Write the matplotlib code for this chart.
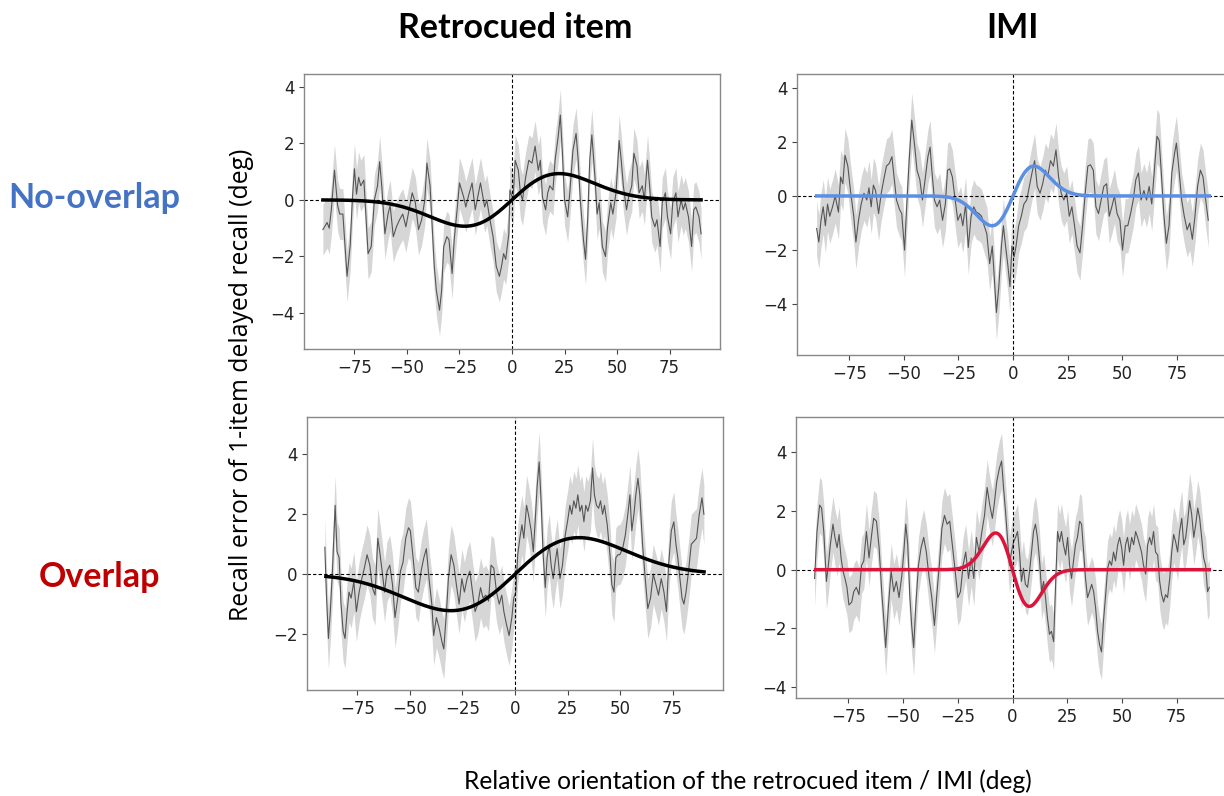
import numpy as np
import matplotlib
matplotlib.use("Agg")
import matplotlib.pyplot as plt

# ---- data ----
# top-left: retrocued item, no-overlap
tl_x = [-90, -88, -87, -86, -84.5, -83, -82, -80.5, -79.5, -78.5, -77, -76, -75, -74, -73, -72, -70.5, -69.5,
        -68.5, -67, -65.5, -64, -63, -62, -60.5, -59, -58, -56.5, -55, -53.5, -52, -50.5, -49, -47.5, -46,
        -44.5, -43, -41.5, -40.5, -39, -38, -37, -36, -34.5, -33.5, -32.5, -31, -30, -28.5, -27.5, -26, -25,
        -23, -22, -20.5, -19, -17.5, -15, -13, -12, -10.5, -9, -7.5, -6, -5, -4, -3, -1.5, -1, 0.5, 1.5, 3, 4,
        5, 6.5, 8, 9.5, 11, 12.5, 13.5, 14.5, 16, 17, 18, 19.5, 20.5, 22, 23, 24, 25, 26.5, 27.5, 29, 30.5,
        31.5, 32.5, 34, 35, 36, 37, 38, 39.5, 40.5, 41.5, 43, 44.5, 45.5, 47, 48, 49.5, 51, 52, 53, 54.5, 55.5,
        57, 58, 59.5, 60.5, 62, 63, 64.5, 65.5, 66.5, 68, 69, 70.5, 71.5, 73, 74, 75.5, 76.5, 78, 79, 80.5,
        81.5, 82.5, 84, 85.5, 86.5, 87.5, 89, 90]
tl_y = [-1.05, -0.8, -1.0, -0.35, 1.05, -0.2, -0.5, -0.5, -1.6, -2.7, -1.6, 0, 1.1, 0.2, 0.8, 0.5, 0.7, -0.6,
        -1.9, -1.65, 0, 0.5, 1.35, 0.5, -1.2, -0.5, -0.2, -1.3, -0.95, -0.7, -0.5, -0.95, -0.35, 0.25, -0.1,
        -1.05, -0.7, 0, 1.3, 0.5, -0.95, -2.35, -3.2, -3.9, -3.2, -1.65, -1.3, -1.4, -2.6, -1.4, -0.25, 0.6,
        0.1, -0.25, 0.2, 0.6, -0.35, 0.6, -0.25, 0, -0.7, -1.3, -2.35, -2.7, -2.35, -1.9, -2.1, -1.2, 0.35, 0,
        1.4, 1.05, 0.25, 0, 0.8, 1.4, 1.3, 1.9, 1.05, 1.4, 0.1, -0.35, 0.25, 0.5, 0.35, 1.4, 2.25, 3.0, 1.65,
        0, -0.6, 0.25, 1.75, 2.35, 1.4, 0, -1.4, -2.1, -0.7, 1.4, 2.3, 0.8, -0.5, -0.1, -1.65, -2.0, -0.95,
        -0.1, -0.5, 0.25, 2.1, 1.4, 0.5, -0.35, 0.1, 0.5, 1.65, 1.2, 0.25, 0.5, 0, 1.4, 0.5, -0.6, -0.95, -0.7,
        -1.65, -0.1, 0.25, -0.6, -1.2, -0.1, 0.25, -0.6, 0, -0.35, -0.1, -0.6, -1.65, -0.35, -0.25, -0.6, -1.2]

# top-right: IMI, no-overlap
tr_x = [-90, -89, -88, -87, -86, -85, -84, -82.7, -81.5, -80, -79, -78, -77, -75.7, -74.5, -73, -72, -70.8,
        -69.6, -68.3, -67, -66, -65, -64, -63, -61.6, -60.4, -59, -58, -56.7, -55.5, -54.5, -53.4, -52, -51,
        -49.7, -48.8, -47.6, -46.4, -45, -44, -42.7, -41.5, -40.3, -39, -38, -37.2, -36, -34.8, -33.6, -32.3,
        -31, -30, -29, -27.8, -26.5, -25.3, -24, -23, -21.7, -20.5, -19.2, -18, -16.8, -15.6, -14.4, -13.2,
        -12, -10.7, -9.5, -8.7, -7.6, -6.5, -5.3, -4.4, -3.4, -2.3, -1.4, -0.5, 0.5, 1.4, 2.6, 3.8, 5, 6.3,
        7.5, 8.7, 9.9, 11.1, 12.4, 13.6, 14.8, 16, 17.2, 18.5, 19.7, 20.9, 22.1, 23.3, 24.6, 25.8, 27, 28.2,
        29.4, 30.7, 31.9, 33.1, 34.3, 35.5, 36.8, 38, 39.2, 40.4, 41.6, 42.9, 44.1, 45.3, 46.5, 47.7, 49,
        50.2, 51.4, 52.6, 53.9, 55.1, 56.3, 57.5, 58.7, 60, 61.2, 62.4, 63.6, 64.8, 66, 67, 67.9, 69.1, 70.3,
        71.5, 72.8, 74, 74.9, 76.1, 77.3, 78.5, 79.8, 81, 82.2, 83.4, 84.6, 85.9, 87.1, 88.3, 89.5]
tr_y = [-1.2, -1.7, -0.9, -0.4, -1.1, -0.3, -0.75, -0.4, 0, -0.6, 0.7, 0.45, 1.5, 1.1, 0.2, -0.75, -1.7, -0.9,
        -0.3, 0.1, -0.15, 0.3, -0.4, 0.4, 0.2, -0.65, 0.1, 0.7, 1.1, 1.2, 1.45, 0.7, -0.15, -0.5, -0.65,
        -2.0, -0.5, 1.3, 2.8, 1.8, 0.95, 0.6, -0.15, 0.6, 1.45, 1.8, 0.95, -0.15, -0.4, -0.15, -0.9,
        -0.3, 0.95, 1.0, 0.7, -0.15, -0.9, -0.65, -1.1, -0.3, -1.9, -0.75, -0.4, -0.6, -0.65, -0.75, -1.1,
        -1.4, -2.5, -1.85, -2.85, -4.3, -3.35, -1.85, -1.1, -1.85, -2.6, -3.35, -1.85, -2.25, -1.85, -1.1,
        -0.75, -0.3, -0.15, 0.35, 0.85, 1.3, 0.35, 0.1, 0.45, 0.95, 0.75, 1.3, 1.1, 1.7, 0.7, 0.1, -0.15,
        0.1, -0.75, -0.4, -1.1, -1.85, -2.1, -1.1, 0.1, 1.1, 1.15, 0.95, -0.4, -0.65, -0.15, 0.35, 0.45,
        -0.75, -0.4, 0, -0.65, -0.9, -2.0, -1.1, -1.1, -0.65, -0.15, 0.6, 0.85, -0.15, 0.2, -0.15, 0.35,
        -0.3, 0.95, 2.2, 2.05, 0.95, -0.65, -1.75, -1.1, 0.85, 1.55, 1.95, 0.95, -0.15, -0.75, -1.25, -1.0,
        -1.6, -0.75, 0.35, 0.95, 0.7, -0.15, -0.9]

# bottom-left: retrocued item, overlap
bl_x = [-90.5, -89.8, -88.8, -87.9, -86.9, -85.6, -84.7, -83.7, -82.8, -81.8, -80.9, -79.9, -79, -78, -76.7,
        -75.5, -74.2, -72.9, -71.7, -70.4, -69.1, -67.9, -66.6, -65.3, -64.4, -63.4, -62.1, -60.9, -59.6,
        -58.3, -57.1, -55.8, -54.5, -53.3, -52, -50.7, -49.8, -48.5, -47.2, -46, -44.7, -43.4, -42.2, -40.9,
        -39.6, -38.7, -37.4, -36.1, -34.8, -33.9, -32.6, -31.7, -30.4, -29.1, -27.9, -26.6, -25.3, -24.1,
        -22.8, -21.5, -20.2, -19, -17.7, -16.4, -15.2, -13.9, -12.6, -11.4, -10.1, -8.8, -7.5, -6.3, -5.3,
        -4, -2.8, -1.5, -0.6, 0.4, 1.3, 2.3, 3.3, 4.2, 5.5, 6.4, 7.7, 8.7, 9.6, 10.5, 11.5, 12.5, 13.4, 14.4,
        15.3, 16.3, 17.2, 18.2, 19.1, 20.1, 21.4, 22.6, 23.9, 25.2, 26.1, 27, 28, 29, 29.9, 30.9, 31.8, 32.8,
        33.7, 34.7, 35.9, 36.9, 37.8, 38.8, 39.8, 40.7, 41.7, 42.6, 43.9, 45.2, 46.1, 47.1, 48, 49, 49.9,
        51.2, 52.5, 53.7, 54.7, 55.6, 56.6, 57.5, 58.5, 59.4, 60.7, 62, 63.2, 64.5, 65.8, 67.1, 68.3, 69.6,
        70.9, 72.1, 73.1, 74.4, 75.6, 76.6, 77.5, 78.5, 79.5, 80.4, 81.4, 82.6, 83.9, 85.2, 86.4, 87.7, 89,
        89.9]
bl_y = [0.9, -0.6, -2.15, -1.25, 0.1, 2.3, 0.75, 0.55, -1.0, -1.9, -2.15, -1.25, -0.6, -0.8, -0.25,
        -1.25, -0.6, -0.15, 0.2, 0.65, 0.3, -0.45, -0.7, 1.2, 0.75, 0.2, -0.6, 0.1, 0.3,
        -0.35, -1.45, -0.8, 0.1, 0.4, 1.2, 1.55, 1.45, 0.55, -0.45, -0.6, 0.1, 0.55, 0.85, -0.15,
        -1.0, -2.05, -1.45, -1.8, -2.25, -2.5, -1.25, -0.15, 0.65, 0.3, -0.35, -1.0, -0.15, -0.6,
        -0.15, 0.1, -0.6, -1.25, -1.0, -0.45, -0.8, -0.7, -0.9, 0.3, 0.2, -0.6, -1.0, -0.7, -1.25,
        -1.7, -2.05, -1.45, -0.8, -0.6, 0.65, 1.2, 1.65, 1.2, 2.3, 2.0, 1.45, 0.75, 1.75, 2.9, 3.75, 2.3, 0.65,
        -0.45, 0.55, 1.0, 0.3, -0.15, 0.4, 0.85, -0.15, 0.3, 1.3, 1.85, 2.3, 2.0, 2.45, 2.2, 2.65, 2.1, 2.3,
        1.75, 2.3, 2.1, 2.45, 3.55, 2.65, 2.3, 2.2, 2.45, 2.0, 2.3, 1.65, 0.65, -0.35, -0.6, 0.55, 0.65, 0.65,
        0.85, 1.3, 2.0, 2.65, 1.45, 2.0, 2.65, 3.2, 2.65, 1.0, -0.15, -1.15, -0.8, 0, -0.35, -0.7, -0.15,
        -0.6, -1.25, 0.3, 1.45, 1.75, 1.0, 0.55, -0.15, -0.8, -1.0, -0.6, 0.1, 1.0, 1.1, 1.2, 2.0, 2.55,
        2.0]

# bottom-right: IMI, overlap
br_x = [-90.5, -89.4, -88.2, -87.3, -86.3, -85.1, -84.2, -83.3, -82.1, -81.2, -80.2, -79.3, -78.4, -77.5,
        -76.6, -75.7, -74.8, -73.5, -72.6, -71.4, -70.2, -69, -68, -66.8, -65.6, -64.4, -63.5, -62.2, -61,
        -59.8, -58.9, -58, -56.7, -55.5, -54.3, -53.1, -51.9, -50.6, -49.7, -48.8, -47.9, -47, -46.1, -45.2,
        -44.2, -43, -41.8, -40.6, -39.4, -38.1, -36.9, -35.7, -34.5, -33.3, -32.3, -31.1, -29.9, -28.7,
        -27.5, -26.2, -25, -23.8, -22.6, -21.4, -20.1, -18.9, -17.7, -16.5, -15.3, -14, -12.8, -11.6, -10.4,
        -9.2, -8.4, -7.2, -6, -5, -4.1, -3.2, -2.3, -1.4, -0.5, 0.5, 1.4, 2.3, 3.2, 4.1, 5, 5.9, 6.9, 7.8,
        8.7, 9.6, 10.5, 11.4, 12.4, 13.3, 14.2, 15.1, 16, 16.9, 17.8, 18.8, 19.7, 20.6, 21.5, 22.4, 23.3,
        24.3, 25.2, 26.1, 27, 27.9, 28.8, 29.7, 30.7, 31.6, 32.5, 33.4, 34.3, 35.2, 36.2, 37.1, 38, 38.9,
        39.8, 40.7, 41.6, 42.6, 43.5, 44.4, 45.3, 46.2, 47.1, 48.1, 49, 49.9, 50.8, 51.7, 52.6, 53.5, 54.5,
        55.4, 56.3, 57.2, 58.1, 59, 59.9, 60.9, 61.8, 62.7, 63.6, 64.5, 65.4, 66.4, 67.3, 68.2, 69.1, 70,
        70.9, 71.9, 72.8, 73.7, 74.6, 75.5, 76.4, 77.4, 78.3, 79.2, 80.1, 81, 81.9, 82.9, 83.8, 84.7, 85.6,
        86.5, 87.4, 88.3, 89.2, 90]
br_y = [-0.3, 1.3, 2.2, 2.1, 1.3, -0.4, 0.15, 0.85, 1.55, 1.1, 0.75, 1.2, 0.4, -0.05,
        -0.3, -0.6, -1.2, -1.1, -0.75, -0.6, -0.85, 0.15, 0.3, 1.3, 0.4, 1.2, 1.75, 1.65, 0.75,
        -0.75, -1.65, -2.65, -1.2, -0.05, -0.75, -0.4, -0.95, -0.2, 0.6, 1.55, 0.85, -0.85, -1.9, -2.65,
        -1.2, 0.15, 0.75, 1.1, 0.6, -0.3, -0.95, -1.9, -0.75, 0.3, 1.4, 1.85, 1.55, 1.65,
        0.85, -0.05, -0.95, -0.75, 0.15, 0.6, -0.3, 0.4, -0.3, 1.1, 0.6, 1.3, 1.85, 2.8, 2.2,
        1.75, 2.2, 3.0, 3.45, 3.7, 2.8, 2.0, 1.1, 0.15, 0.6, 0.95, 1.1, 1.3, 0.6, -0.4, 0.05, -0.5, -0.6, -0.05,
        0.6, 1.3, 1.55, 1.1, 0.3, -0.75, -0.4, -0.95, -1.65, -2.2, -2.1, -2.45, -0.5, 1.3, 0.95, 1.3, 0.85,
        0.5, 1.1, 0.15, -0.3, 0.3, 0.85, 1.1, 1.65, 1.55, 0.6, -0.3, -0.95, -0.75, -0.5, -0.75, -1.3, -2.1,
        -2.55, -2.8, -1.75, -0.85, 0.05, 0.3, 0.15, 0.6, 0.3, 0.85, 1.1, 0.75, 0.15, 0.85, 1.1, 0.6, 1.1,
        0.85, 1.3, 1.1, 0.85, 0.6, 0.15, -0.15, 0.85, 1.1, 0.85, 1.3, 0.6, 0.5, -0.4, -0.85, -1.1, -0.85,
        -0.95, -0.3, 0.6, 1.2, 0.95, 0.6, 1.3, 1.75, 0.85, 1.1, 1.65, 2.35, 1.9, 1.1, 1.55, 2.1, 1.75,
        1.1, 0.4, 0.15, -0.75, -0.6]

# half-width of the shaded error band per panel
band_sem = [0.9, 1.0, 1.0, 0.95]

# derivative-of-Gaussian fits: position of the positive peak and its height
fit_peak = [22.5, 9.6, 30.5, 7.7]
fit_amp = [0.93, 1.1, 1.22, -1.25]
fit_color = ["black", "#5b8fe3", "black", "#dc143c"]

col_titles = ["Retrocued item", "IMI"]
row_titles = ["No-overlap", "Overlap"]
row_colors = ["#4472c4", "#c00000"]
x_ticks = [-75, -50, -25, 0, 25, 50, 75]

W, H = 1224, 796


def box(left, top, right, bottom):
    return [left / W, 1 - bottom / H, (right - left) / W, (bottom - top) / H]


fig = plt.figure(figsize=(W / 100, H / 100), dpi=100)

panels = [
    (tl_x, tl_y, box(304, 74, 720, 349), (-5.27, 4.45), [-4, -2, 0, 2, 4]),
    (tr_x, tr_y, box(797, 74, 1229, 355), (-5.87, 4.5), [-4, -2, 0, 2, 4]),
    (bl_x, bl_y, box(307, 417, 723, 690), (-3.87, 5.25), [-2, 0, 2, 4]),
    (br_x, br_y, box(796, 417, 1229, 698), (-4.37, 5.2), [-4, -2, 0, 2, 4]),
]

for i, (xs, ys, rect, ylim, yt) in enumerate(panels):
    ax = fig.add_axes(rect)
    xs = np.array(xs)
    ys = np.array(ys)
    ax.fill_between(xs, ys - band_sem[i], ys + band_sem[i], color="#d6d6d6", lw=0)
    ax.plot(xs, ys, color="#555555", lw=0.8)
    ax.axhline(0, color="black", ls=(0, (3, 2)), lw=0.8)
    ax.axvline(0, color="black", ls=(0, (3, 2)), lw=0.8)
    xf = np.linspace(-90, 90, 400)
    u = xf / fit_peak[i]
    ax.plot(xf, fit_amp[i] * u * np.exp(0.5 * (1 - u ** 2)), color=fit_color[i], lw=2.5)
    ax.set_xlim(-99, 99)
    ax.set_ylim(*ylim)
    ax.set_xticks(x_ticks)
    ax.set_yticks(yt)
    ax.tick_params(labelsize=12, length=3.5, color="#444444", labelcolor="#222222")
    for lbl in ax.get_xticklabels() + ax.get_yticklabels():
        lbl.set_fontfamily("DejaVu Sans")
    for s in ax.spines.values():
        s.set_color("#888888")
        s.set_linewidth(1)

title_font = dict(family=["Lato", "DejaVu Sans"], fontweight="bold", fontsize=24.5)
fig.text(515 / W, 1 - 28 / H, col_titles[0], ha="center", va="center", **title_font)
fig.text(1012 / W, 1 - 28 / H, col_titles[1], ha="center", va="center", **title_font)
fig.text(94 / W, 1 - 198 / H, row_titles[0], ha="center", va="center", color=row_colors[0], **title_font)
fig.text(100 / W, 1 - 577 / H, row_titles[1], ha="center", va="center", color=row_colors[1], **title_font)

fig.text(242 / W, 1 - 385 / H, "Recall error of 1-item delayed recall (deg)", rotation=90,
         ha="center", va="center", fontsize=17.8, family=["Open Sans", "DejaVu Sans"])
fig.text(748 / W, 1 - 781 / H, "Relative orientation of the retrocued item / IMI (deg)",
         ha="center", va="center", fontsize=17.7, family=["Lato", "DejaVu Sans"])

fig.savefig("out.png", dpi=100)
